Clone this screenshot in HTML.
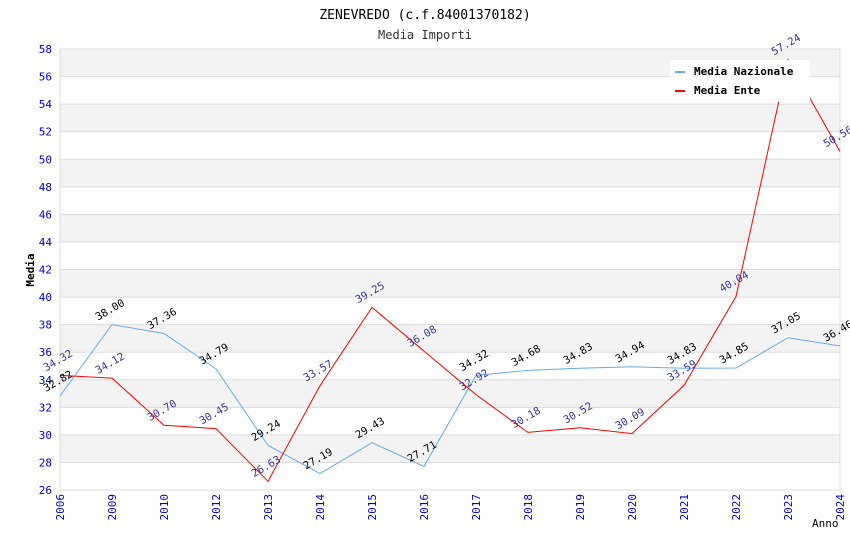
<!DOCTYPE html>
<html><head><meta charset="utf-8"><style>
body{margin:0;background:#fff;}
svg text{font-family:"DejaVu Sans Mono","Liberation Mono",monospace;}
</style></head><body>
<svg id="c" width="850" height="550" xmlns="http://www.w3.org/2000/svg">
<text x="425" y="19" text-anchor="middle" font-size="13" fill="#000">ZENEVREDO (c.f.84001370182)</text>
<text x="425" y="39" text-anchor="middle" font-size="12" fill="#333">Media Importi</text>
<g id="grid"></g><g id="axes"></g><g id="series"></g><g id="labels"></g>
<text x="34" y="270" font-size="11" font-weight="bold" fill="#000" transform="rotate(-90 34 270)" text-anchor="middle">Media</text>
<text x="812" y="527" font-size="11" fill="#000">Anno</text>
<g>
<rect x="670" y="60" width="140" height="42" fill="#fff"/>
<rect x="675" y="71" width="10" height="2" fill="#66aaee"/>
<text x="694" y="75" font-size="11" font-weight="bold" fill="#000">Media Nazionale</text>
<rect x="675" y="90" width="10" height="2" fill="#ff0000"/>
<text x="694" y="94" font-size="11" font-weight="bold" fill="#000">Media Ente</text>
</g>
</svg>
<script>
const years=["2006","2009","2010","2012","2013","2014","2015","2016","2017","2018","2019","2020","2021","2022","2023","2024"];
const nazionale=[32.82,38.00,37.36,34.79,29.24,27.19,29.43,27.71,34.32,34.68,34.83,34.94,34.83,34.85,37.05,36.46];
const ente=[34.32,34.12,30.70,30.45,26.63,33.57,39.25,36.08,32.92,30.18,30.52,30.09,33.59,40.04,57.24,50.56];
const yTicks=[26,28,30,32,34,36,38,40,42,44,46,48,50,52,54,56,58];
const NS="http://www.w3.org/2000/svg";
const L=60,R=840,T=49,B=490,yMin=26,yMax=58;
const x=i=>L+i*(R-L)/(years.length-1);
const y=v=>B-(v-yMin)/(yMax-yMin)*(B-T);
function mk(t,a,p){const e=document.createElementNS(NS,t);for(const k in a)e.setAttribute(k,a[k]);p.appendChild(e);return e;}
const g=document.getElementById('grid'),ax=document.getElementById('axes'),s=document.getElementById('series'),lb=document.getElementById('labels');
for(let i=0;i<yTicks.length-1;i++){
 const lo=yTicks[i],hi=yTicks[i+1];
 const r=mk('rect',{x:L,y:y(hi),width:R-L,height:y(lo)-y(hi),fill:(lo%4===0)?'#f3f3f3':'#fff'},g);
 
 
}
yTicks.forEach(v=>{
 const l=mk('line',{x1:L,x2:R,y1:y(v),y2:y(v),stroke:'#dddddd','stroke-width':1},g);
 
 
 const t=mk('text',{x:L-8,y:y(v)+4,'text-anchor':'end','font-size':11,fill:'#0000cc'},ax);
 t.textContent=v;
 
 
});
mk('line',{x1:R,x2:R,y1:T,y2:B,stroke:'#dddddd'},g);
mk('line',{x1:L,x2:L,y1:T,y2:B,stroke:'#dddddd'},g);
years.forEach((yr,i)=>{
 const t=mk('text',{x:x(i)+4,y:B+4,'text-anchor':'end','font-size':11,fill:'#0000cc',transform:`rotate(-90 ${x(i)+4} ${B+4})`},ax);
 t.textContent=yr;
 
 
});
function series(data,color,lblColor,name){
 const p=mk('polyline',{points:data.map((v,i)=>x(i)+','+y(v)).join(' '),fill:'none',stroke:color,'stroke-width':1},s);
 
 
 data.forEach((v,i)=>{
  const px=x(i)-14,py=y(v)-4;
  const t=mk('text',{x:px,y:py,'font-size':10.5,fill:lblColor,transform:`rotate(-30 ${px} ${py})`},lb);
  t.textContent=v.toFixed(2);
  
  
 });
}
series(nazionale,'#66aaee','#000','nazionale');
series(ente,'#ff0000','#333399','ente');
</script>
</body></html>
